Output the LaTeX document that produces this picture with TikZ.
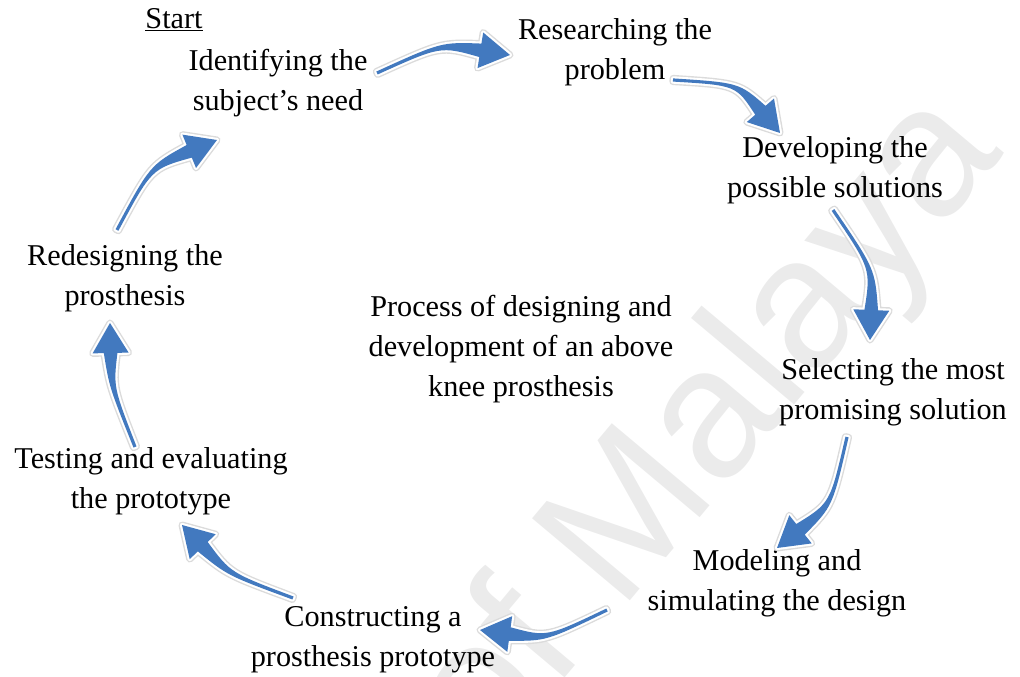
\documentclass[tikz,border=0pt]{standalone}
\usepackage{fontspec}
\setmainfont{Liberation Serif}
\newfontfamily\markfont{Liberation Sans}
\usetikzlibrary{calc,positioning}

\definecolor{arrowblue}{RGB}{66,121,191}

\tikzset{
  stage/.style={align=center, inner sep=0pt, font=\fontsize{21.5}{28.5}\selectfont},
  cyc arrow/.style={fill=arrowblue,
    preaction={draw=black!14, line width=5pt, line join=round},
    preaction={draw=white, line width=3pt, line join=round}},
}

% tapered curved arrow: #1 tail, #2 tip, #3 bulge
\newcommand{\cyclearrow}[3]{%
  \path ($(#1)!0.5!(#2)!#3!90:(#2)$) coordinate (ctl);
  \path ($(#2)!0.75cm!(ctl)$) coordinate (base);
  \path ($(base)!0.17cm!90:(#2)$) coordinate (bl)
        ($(base)!0.17cm!-90:(#2)$) coordinate (br)
        ($(base)!0.45cm!90:(#2)$) coordinate (hl)
        ($(base)!0.45cm!-90:(#2)$) coordinate (hr)
        ($(ctl)!0.05cm!90:(#2)$) coordinate (co)
        ($(ctl)!0.05cm!-90:(#2)$) coordinate (ci)
        ($(#1)!0.04cm!90:(ctl)$) coordinate (tl)
        ($(#1)!0.04cm!-90:(ctl)$) coordinate (tr);
  \path[cyc arrow] (tl) .. controls (co) .. (bl) -- (hl) -- (#2) -- (hr) -- (br) .. controls (ci) .. (tr) -- cycle;
}

\begin{document}
\begin{tikzpicture}
    \useasboundingbox (0,0) rectangle (25.5,16.925);
    \clip (0,0) rectangle (25.5,16.925);

    % faint watermark behind everything
    \node[rotate=50, text=black!8, font=\markfont\fontsize{132}{132}\selectfont] (mark) at (17.75,6.15) {of Malaya};

    \node[stage] (start) at (4.35,16.425) {\underline{Start}};
    \node[stage] (ident) at (6.95,14.85) {Identifying the\\subject’s need};
    \node[stage] (research) at (15.375,15.625) {Researching the\\problem};
    \node[stage] (develop) at (20.875,12.675) {Developing the\\possible solutions};
    \node[stage] (select) at (22.325,7.125) {Selecting the most\\promising solution};
    \node[stage] (model) at (19.425,2.35) {Modeling and\\simulating the design};
    \node[stage] (construct) at (9.325,0.925) {Constructing a\\prosthesis prototype};
    \node[stage] (testing) at (3.775,4.9) {Testing and evaluating\\the prototype};
    \node[stage] (redesign) at (3.125,9.975) {Redesigning the\\prosthesis};
    \node[stage] (title) at (13.025,8.2) {Process of designing and\\development of an above\\knee prosthesis};

    % arrow ends, next to each stage
    \coordinate (t1) at ($(ident)+(2.475,0.25)$);
    \coordinate (h1) at ($(research)+(-2.625,-0.075)$);
    \coordinate (t2) at ($(research)+(1.45,-0.7)$);
    \coordinate (h2) at ($(develop)+(-1.375,0.925)$);
    \coordinate (t3) at ($(develop)+(-0.05,-1.0)$);
    \coordinate (h3) at ($(select)+(-0.575,1.3)$);
    \coordinate (t4) at ($(select)+(-1.15,-1.125)$);
    \coordinate (h4) at ($(model)+(0,0.875)$);
    \coordinate (t5) at ($(model)+(-4.25,-0.675)$);
    \coordinate (h5) at ($(construct)+(2.675,0.25)$);
    \coordinate (t6) at ($(construct)+(-2.0,1.05)$);
    \coordinate (h6) at ($(testing)+(0.775,-1.1)$);
    \coordinate (t7) at ($(testing)+(-0.4,0.85)$);
    \coordinate (h7) at ($(redesign)+(-0.375,-1.125)$);
    \coordinate (t8) at ($(redesign)+(-0.2,1.2)$);
    \coordinate (h8) at ($(ident)+(-1.525,-1.425)$);

    \cyclearrow{t1}{h1}{0.3}
    \cyclearrow{t2}{h2}{0.42}
    \cyclearrow{t3}{h3}{0.33}
    \cyclearrow{t4}{h4}{0.35}
    \cyclearrow{t5}{h5}{0.3}
    \cyclearrow{t6}{h6}{0.23}
    \cyclearrow{t7}{h7}{0.18}
    \cyclearrow{t8}{h8}{0.36}
\end{tikzpicture}
\end{document}
